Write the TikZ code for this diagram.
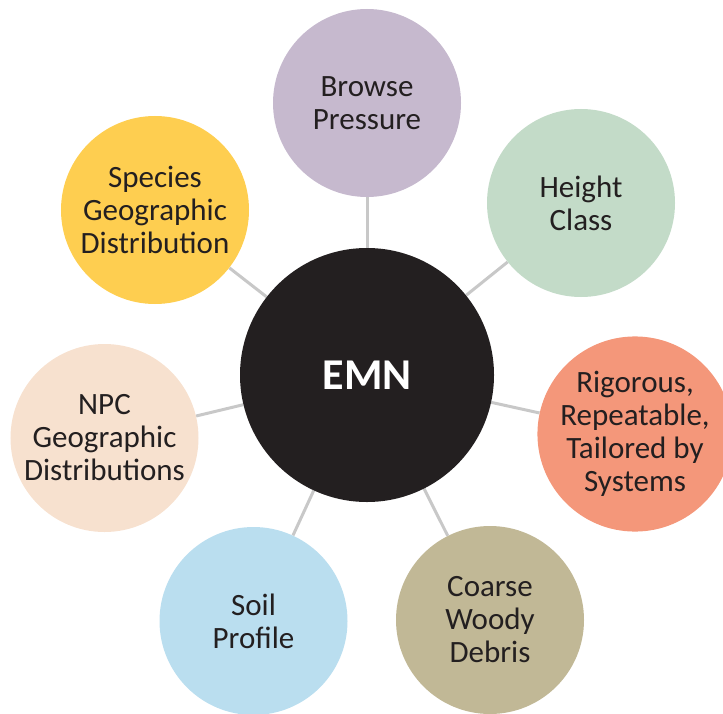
\documentclass[tikz,border=0pt]{standalone}
\usepackage{fontspec}
\setmainfont{Carlito}
\usetikzlibrary{backgrounds}
\definecolor{txt}{HTML}{231F20}
\definecolor{hub}{HTML}{231F20}
\definecolor{cBrowse}{HTML}{C6B9CE}
\definecolor{cHeight}{HTML}{C3DBC8}
\definecolor{cSpecies}{HTML}{FECE50}
\definecolor{cNPC}{HTML}{F7E1CF}
\definecolor{cRig}{HTML}{F4977A}
\definecolor{cSoil}{HTML}{BADEEF}
\definecolor{cCoarse}{HTML}{C1B896}
\definecolor{link}{HTML}{C8C8C8}
\begin{document}
\begin{tikzpicture}[x=1bp,y=-1bp,
  leaf/.style={circle,minimum size=188bp,inner sep=0pt,align=center,text=txt,
    font=\fontsize{31bp}{33bp}\selectfont},
  hubnode/.style={circle,minimum size=254bp,inner sep=0pt,fill=hub,text=white,
    font=\fontsize{44bp}{48bp}\selectfont\bfseries},
  conn/.style={draw=link,line width=3bp}]
\useasboundingbox (0,0) rectangle (723,714);
\node[hubnode] (emn) at (367,375) {EMN};
\node[leaf,fill=cBrowse] (browse) at (367,103) {Browse\\Pressure};
\node[leaf,fill=cHeight] (height) at (581,203) {Height\\Class};
\node[leaf,fill=cRig] (rig) at (635,434) {Rigorous,\\Repeatable,\\Tailored by\\Systems};
\node[leaf,fill=cCoarse] (coarse) at (490,620) {Coarse\\Woody\\Debris};
\node[leaf,fill=cSoil] (soil) at (253.5,621) {Soil\\Profile};
\node[leaf,fill=cNPC] (npc) at (104.5,438) {NPC\\Geographic\\Distributions};
\node[leaf,fill=cSpecies] (species) at (155,210) {Species\\Geographic\\Distribution};
\begin{scope}[on background layer]
\foreach \n in {browse,height,rig,coarse,soil,npc,species}
  \draw[conn] (emn) -- (\n);
\end{scope}
\end{tikzpicture}
\end{document}
